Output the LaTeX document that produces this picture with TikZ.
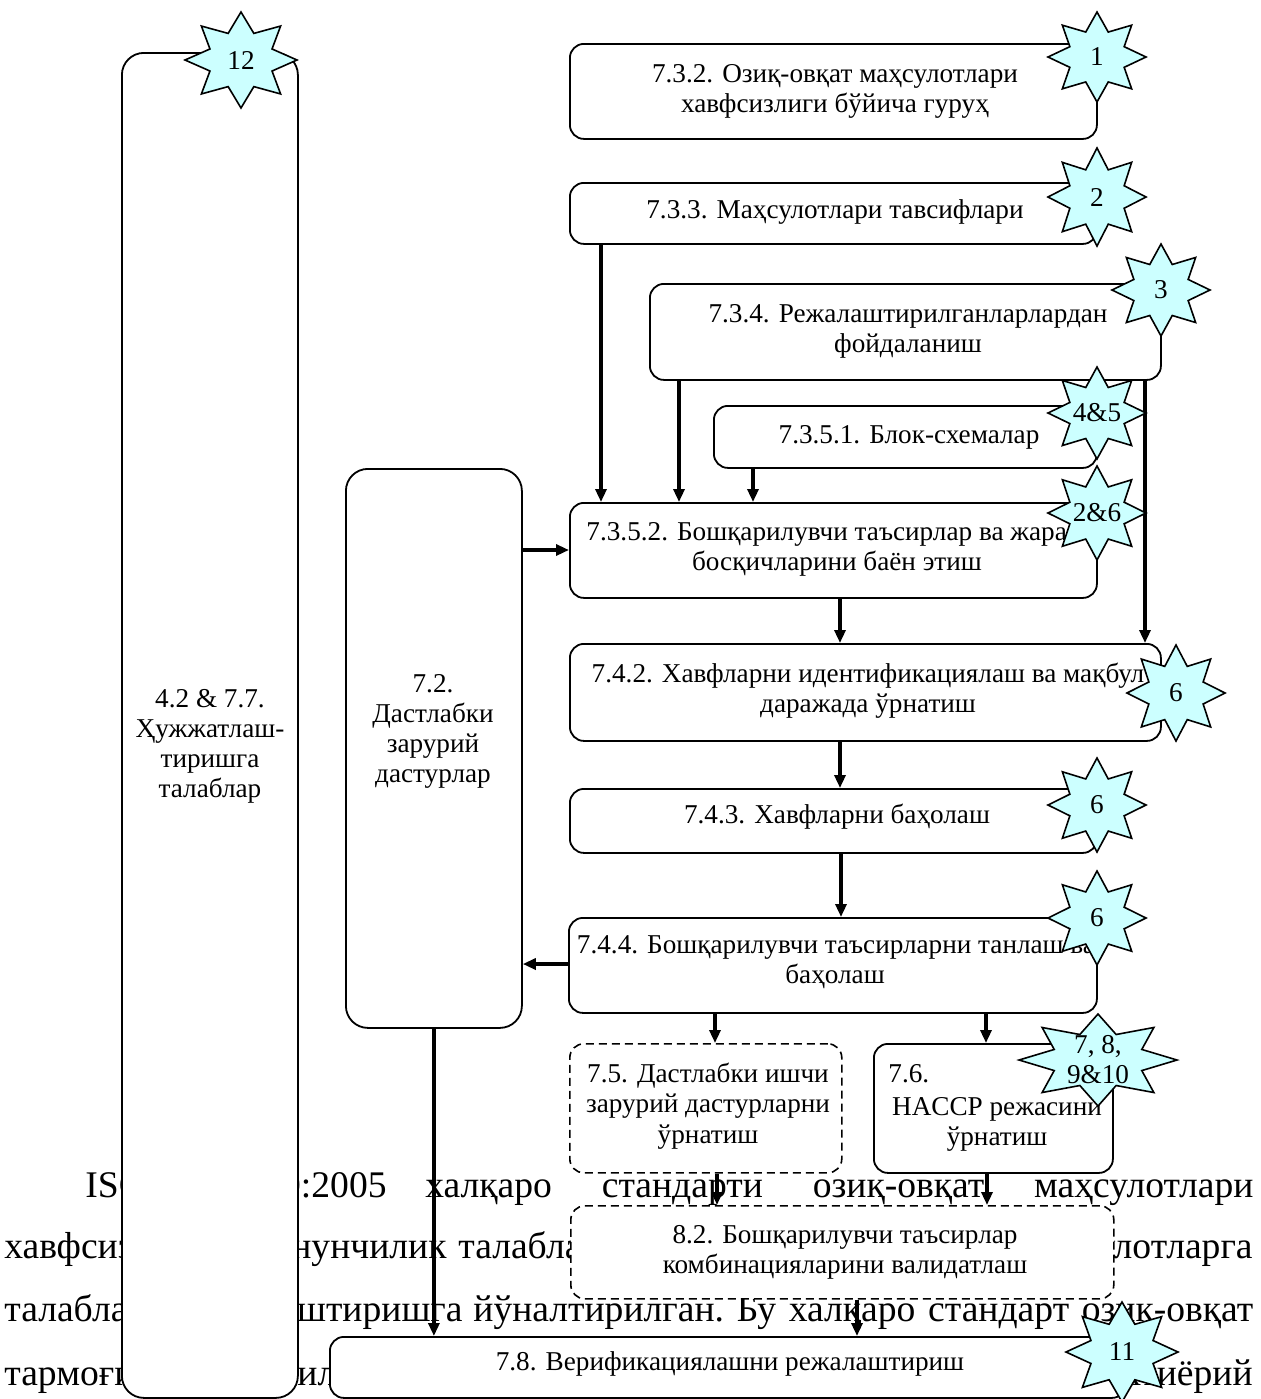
\documentclass[tikz,border=0pt]{standalone}
\usepackage{fontspec}
\setmainfont{Liberation Serif}
\usetikzlibrary{arrows.meta}
\definecolor{starfill}{HTML}{CCFFFF}
\tikzset{
  box/.style={draw, line width=0.9pt, rounded corners=7pt, fill=white, inner sep=0pt},
  tallbox/.style={box, rounded corners=11pt},
  dbox/.style={box, dash pattern=on 4pt off 2.5pt, line width=0.8pt},
  arr/.style={line width=1.6pt, -{Triangle[length=6.5pt,width=5.5pt]}},
  lab/.style={font=\fontsize{13.6}{15}\selectfont, align=center, inner sep=0pt},
  body/.style={font=\fontsize{18.8}{20}\selectfont, inner sep=0pt},
  burstline/.style={draw, line width=0.8pt, fill=starfill, line join=miter},
}
\newcommand{\mkbox}[6]{%
  \node[#1, anchor=north west, minimum width={(#5-#3)*0.5pt}, minimum height={(#6-#4)*0.5pt}] (#2) at (#3,#4) {};}
\newcommand{\burst}[6]{%
  \draw[burstline, shift={(#2,#3)}] (90:#4 and #5)
    \foreach \k in {0,...,7}{ -- ({112.5+45*\k}:{0.6*#4} and {0.6*#5}) -- ({135+45*\k}:#4 and #5)} -- cycle;
  \node[lab] (#1) at (#2,#3) {#6};}
\begin{document}
\begin{tikzpicture}[x=0.5pt,y=-0.5pt]
\useasboundingbox (0,0) rectangle (1260,1399);
% ---- background body text ----
\node[body, anchor=base west] (p1a) at (85,1197) {ISO};
\node[body, anchor=base east] (p1b) at (387,1197) {22000:2005};
\node[body, anchor=base west] (p1c) at (425,1197) {\hbox to 414pt{халқаро\hfil стандарти\hfil озиқ-овқат\hfil маҳсулотлари}};
\node[body, anchor=base west] (p2a) at (4,1258) {хавфсизлиги};
\node[body, anchor=base east] (p2b) at (447,1258) {қонунчилик};
\node[body, anchor=base west] (p2c) at (458,1258) {талаблари};
\node[body, anchor=base east] (p2d) at (1253,1258) {маҳсулотларга};
\node[body, anchor=base west] (p3a) at (4,1321) {талабларни};
\node[body, anchor=base east] (p3b) at (463,1321) {мослаштиришга};
\node[body, anchor=base west] (p3c) at (473,1321) {\hbox to 390pt{йўналтирилган.\hfil Бу\hfil халқаро\hfil стандарт\hfil озиқ-овқат}};
\node[body, anchor=base west] (p4a) at (4,1385) {тармоғида};
\node[body, anchor=base west] (p4b) at (297,1385) {ил};
\node[body, anchor=base east] (p4c) at (1253,1385) {ихтиёрий};
% ---- boxes ----
\mkbox{tallbox}{L}{121}{52}{297}{1397}
\mkbox{tallbox}{P}{345}{468}{521}{1027}
\mkbox{box}{b1}{569}{43}{1096}{138}
\mkbox{box}{b2}{569}{182}{1096}{243}
\mkbox{box}{b3}{649}{283}{1160}{379}
\mkbox{box}{b4}{713}{405}{1096}{467}
\mkbox{box}{b5}{569}{502}{1096}{597}
\mkbox{box}{b6}{569}{643}{1160}{740}
\mkbox{box}{b7}{569}{788}{1096}{852}
\mkbox{box}{b8}{568}{917}{1096}{1012}
\mkbox{dbox}{b9}{569}{1043}{841}{1172}
\mkbox{box}{b10}{873}{1043}{1112}{1172}
\mkbox{dbox}{b11}{570}{1205}{1113}{1298}
\mkbox{box}{b12}{329}{1336}{1125}{1397}
% ---- box texts ----
\node[lab, anchor=base] (Lt1) at (210,707) {4.2 \& 7.7.};
\node[lab, anchor=base] (Lt2) at (210,737) {Ҳужжатлаш-};
\node[lab, anchor=base] (Lt3) at (210,767) {тиришга};
\node[lab, anchor=base] (Lt4) at (210,797) {талаблар};
\node[lab, anchor=base] (Pt1) at (433,692) {7.2.};
\node[lab, anchor=base] (Pt2) at (433,722) {Дастлабки};
\node[lab, anchor=base] (Pt3) at (433,752) {зарурий};
\node[lab, anchor=base] (Pt4) at (433,782) {дастурлар};
\node[lab, anchor=base] (b1t1) at (835,82) {7.3.2. Озиқ-овқат маҳсулотлари};
\node[lab, anchor=base] (b1t2) at (835,112) {хавфсизлиги бўйича гуруҳ};
\node[lab, anchor=base] (b2t1) at (835,218) {7.3.3. Маҳсулотлари тавсифлари};
\node[lab, anchor=base] (b3t1) at (908,322) {7.3.4. Режалаштирилганларлардан};
\node[lab, anchor=base] (b3t2) at (908,352) {фойдаланиш};
\node[lab, anchor=base] (b4t1) at (909,443) {7.3.5.1. Блок-схемалар};
\node[lab, anchor=base] (b5t1) at (840,540) {7.3.5.2. Бошқарилувчи таъсирлар ва жараён};
\node[lab, anchor=base] (b5t2) at (837,570) {босқичларини баён этиш};
\node[lab, anchor=base] (b6t1) at (868,682) {7.4.2. Хавфларни идентификациялаш ва мақбул};
\node[lab, anchor=base] (b6t2) at (868,712) {даражада ўрнатиш};
\node[lab, anchor=base] (b7t1) at (837,823) {7.4.3. Хавфларни баҳолаш};
\node[lab, anchor=base] (b8t1) at (836,953) {7.4.4. Бошқарилувчи таъсирларни танлаш ва};
\node[lab, anchor=base] (b8t2) at (835,983) {баҳолаш};
\node[lab, anchor=base] (b9t1) at (708,1082) {7.5. Дастлабки ишчи};
\node[lab, anchor=base] (b9t2) at (708,1112) {зарурий дастурларни};
\node[lab, anchor=base] (b9t3) at (708,1143) {ўрнатиш};
\node[lab, anchor=base west] (b10t1) at (888,1082) {7.6.};
\node[lab, anchor=base] (b10t2) at (997,1115) {HACCP режасини};
\node[lab, anchor=base] (b10t3) at (997,1145) {ўрнатиш};
\node[lab, anchor=base] (b11t1) at (845,1243) {8.2. Бошқарилувчи таъсирлар};
\node[lab, anchor=base] (b11t2) at (845,1273) {комбинацияларини валидатлаш};
\node[lab, anchor=base] (b12t1) at (730,1370) {7.8. Верификациялашни режалаштириш};
% ---- arrows ----
\draw[arr] (601,0 |- b2.south) -- (601,0 |- b5.north);
\draw[arr] (679,0 |- b3.south) -- (679,0 |- b5.north);
\draw[arr] (753,0 |- b4.south) -- (753,0 |- b5.north);
\draw[arr] (1145,0 |- b3.south) -- (1145,0 |- b6.north);
\draw[arr] (840,0 |- b5.south) -- (840,0 |- b6.north);
\draw[arr] (840,0 |- b6.south) -- (840,0 |- b7.north);
\draw[arr] (841,0 |- b7.south) -- (841,0 |- b8.north);
\draw[arr] (P.east |- 0,550) -- (b5.west |- 0,550);
\draw[arr] (b8.west |- 0,964) -- (P.east |- 0,964);
\draw[arr] (715,0 |- b8.south) -- (715,0 |- b9.north);
\draw[arr] (986,0 |- b8.south) -- (986,0 |- b10.north);
\draw[arr] (717,0 |- b9.south) -- (717,0 |- b11.north);
\draw[arr] (987,0 |- b10.south) -- (987,0 |- b11.north);
\draw[arr] (857,0 |- b11.south) -- (857,0 |- b12.north);
\draw[arr] (P.south) -- (P.south |- b12.north);
% ---- stars ----
\burst{s12}{241}{60}{56}{48}{12}
\burst{s1}{1097}{57}{49}{45}{1}
\burst{s2}{1097}{197}{49}{49}{2}
\burst{s3}{1161}{290}{49}{46}{3}
\burst{s45}{1097}{413}{49}{46}{4\&5}
\burst{s26}{1097}{513}{49}{47}{2\&6}
\burst{s6a}{1176}{693}{49}{48}{6}
\burst{s6b}{1097}{805}{49}{47}{6}
\burst{s6c}{1097}{918}{49}{47}{6}
\burst{s78}{1098}{1060}{79}{46}{7, 8,\\9\&10}
\burst{s11}{1122}{1352}{56}{50}{11}
\end{tikzpicture}
\end{document}
